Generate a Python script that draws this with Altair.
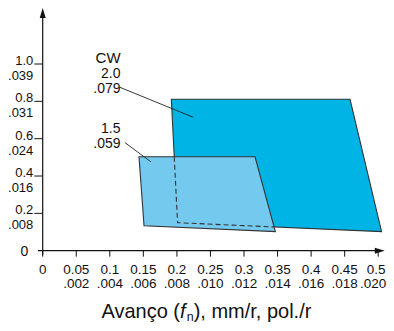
import altair as alt
import pandas as pd

# ---- data ----
x_ticks = [0, 0.05, 0.1, 0.15, 0.2, 0.25, 0.3, 0.35, 0.4, 0.45, 0.5]
x_lab1 = ["0", "0.05", "0.1", "0.15", "0.2", "0.25", "0.3", "0.35", "0.4", "0.45", "0.5"]
x_lab2 = ["", ".002", ".004", ".006", ".008", ".010", ".012", ".014", ".016", ".018", ".020"]

y_ticks = [0.2, 0.4, 0.6, 0.8, 1.0]
y_lab1 = ["0.2", "0.4", "0.6", "0.8", "1.0"]
y_lab2 = [".008", ".016", ".024", ".031", ".039"]

# CW 2.0 region (feed, depth)
dark_f = [0.1917, 0.458, 0.505, 0.201]
dark_d = [0.811, 0.811, 0.102, 0.150]
# CW 1.5 region
light_f = [0.1435, 0.3164, 0.3467, 0.151]
light_d = [0.503, 0.503, 0.102, 0.134]
# hidden edge of CW 2.0 region (dashed)
hid_f = [0.196, 0.201, 0.3448]
hid_d = [0.503, 0.150, 0.127]

# CW labels
cw_text = ["CW", "2.0", ".079", "1.5", ".059"]
cw_d = [1.0037, 0.9234, 0.843, 0.629, 0.5485]
cw_size = [15, 14, 14, 14, 14]
cw_f = 0.1160
# leader lines
lead1_f = [0.1152, 0.2244]
lead1_d = [0.875, 0.7145]
lead2_f = [0.1227, 0.161]
lead2_d = [0.5785, 0.4767]

FONT = "Liberation Sans"
XD = [0, 0.5098]
YD = [0, 1.3]
xs = alt.Scale(domain=XD, nice=False, zero=False)
ys = alt.Scale(domain=YD, nice=False, zero=False)

def X(v):
    return alt.X(v, type="quantitative", scale=xs, axis=None)

def Y(v):
    return alt.Y(v, type="quantitative", scale=ys, axis=None)

def XDat(v):
    return alt.X(datum=v, type="quantitative", scale=xs, axis=None)

def YDat(v):
    return alt.Y(datum=v, type="quantitative", scale=ys, axis=None)

dark_df = pd.DataFrame({"f": dark_f, "d": dark_d, "i": range(len(dark_f))})
light_df = pd.DataFrame({"f": light_f, "d": light_d, "i": range(len(light_f))})
hid_df = pd.DataFrame({"f": hid_f, "d": hid_d, "i": range(len(hid_f))})

dark = alt.Chart(dark_df).mark_line(
    interpolate="linear-closed", fill="#00b4e6", stroke="#333333", strokeWidth=1.1
).encode(x=X("f"), y=Y("d"), order="i:Q")

light = alt.Chart(light_df).mark_line(
    interpolate="linear-closed", fill="#74c9ef", stroke="#333333", strokeWidth=1.1
).encode(x=X("f"), y=Y("d"), order="i:Q")

hidden = alt.Chart(hid_df).mark_line(
    stroke="#333333", strokeWidth=1.1, strokeDash=[5, 3]
).encode(x=X("f"), y=Y("d"), order="i:Q")

# axes
axis_df = pd.DataFrame({"a": [0]})
x_axis = alt.Chart(axis_df).mark_rule(color="#111111", strokeWidth=1.2).encode(
    x=XDat(-0.007), x2=alt.X2(datum=0.503), y=YDat(0),
)
y_axis = alt.Chart(axis_df).mark_rule(color="#111111", strokeWidth=1.2).encode(
    x=XDat(0), y=YDat(-0.022), y2=alt.Y2(datum=1.27),
)
x_arrow = alt.Chart(axis_df).mark_point(
    shape="M1,0L-1,-0.6L-1,0.6Z", size=100, filled=True, color="#111111", opacity=1, xOffset=-5
).encode(x=XDat(0.5098), y=YDat(0))
y_arrow = alt.Chart(axis_df).mark_point(
    shape="M0,-1L0.6,1L-0.6,1Z", size=100, filled=True, color="#111111", opacity=1, yOffset=5
).encode(x=XDat(0), y=YDat(1.3))

xt_df = pd.DataFrame({"v": x_ticks, "l1": x_lab1, "l2": x_lab2})
yt_df = pd.DataFrame({"v": y_ticks, "l1": y_lab1, "l2": y_lab2})

x_tick_marks = alt.Chart(xt_df).mark_rule(color="#111111", strokeWidth=1).encode(
    x=X("v"), y=YDat(0), y2=alt.Y2(datum=-0.032),
)
y_tick_marks = alt.Chart(yt_df).mark_rule(color="#111111", strokeWidth=1).encode(
    y=Y("v"), x=XDat(0), x2=alt.X2(datum=-0.0125),
)

XFS = 13.5
def x_label_layer(field, dy, dx, keep_last):
    base = alt.Chart(xt_df)
    if keep_last:
        base = base.transform_filter(alt.datum.v >= 0.5)
    else:
        base = base.transform_filter(alt.datum.v < 0.5)
    return base.mark_text(
        font=FONT, fontSize=XFS, align="center", baseline="alphabetic",
        dy=dy, dx=dx, color="#111111"
    ).encode(x=X("v"), y=YDat(0), text=f"{field}:N")

x_l1 = x_label_layer("l1", 23.3, 0, False)
x_l2 = x_label_layer("l2", 37, 0, False)
x_l1_last = x_label_layer("l1", 23.3, -2, True)
x_l2_last = x_label_layer("l2", 37, -5, True)

YFS = 13
y_l1 = alt.Chart(yt_df).mark_text(
    font=FONT, fontSize=YFS, align="right", baseline="alphabetic", dx=-9.4, dy=1, color="#111111"
).encode(y=Y("v"), x=XDat(0), text="l1:N")
y_l2 = alt.Chart(yt_df).mark_text(
    font=FONT, fontSize=YFS, align="right", baseline="alphabetic", dx=-9.4, dy=16, color="#111111"
).encode(y=Y("v"), x=XDat(0), text="l2:N")
y_zero = alt.Chart(axis_df).mark_text(
    font=FONT, fontSize=14, align="right", baseline="alphabetic", dx=-14.4, dy=5.3,
    color="#111111", text="0"
).encode(x=XDat(0), y=YDat(0))

cw_df = pd.DataFrame({"t": cw_text, "d": cw_d, "s": cw_size})
cw_labels = alt.Chart(cw_df).mark_text(
    font=FONT, align="right", baseline="alphabetic", color="#111111"
).encode(
    x=XDat(cw_f),
    y=Y("d"),
    text="t:N",
    size=alt.Size("s:Q", scale=None, legend=None),
)

lead_df = pd.DataFrame({
    "f": lead1_f + lead2_f,
    "d": lead1_d + lead2_d,
    "g": ["a", "a", "b", "b"],
})
leaders = alt.Chart(lead_df).mark_line(color="#222222", strokeWidth=0.9).encode(
    x=X("f"), y=Y("d"), detail="g:N"
)

# axis title pieces
def title_piece(text, f, size, align, dy, style="normal"):
    return alt.Chart(axis_df).mark_text(
        font=FONT, fontSize=size, align=align, baseline="alphabetic", dy=dy,
        color="#111111", text=text, fontStyle=style
    ).encode(x=XDat(f), y=YDat(0))

TB = 67.6
t1 = title_piece("Avanço (", 0.2046, 20, "right", TB)
t2 = title_piece("f", 0.2046, 20, "left", TB, "italic")
t3 = title_piece("n", 0.2145, 12.5, "left", TB + 2.5)
t4 = title_piece("), mm/r, pol./r", 0.2250, 20, "left", TB)

chart = alt.layer(
    dark, light, hidden,
    leaders, cw_labels,
    x_axis, y_axis, x_arrow, y_arrow,
    x_tick_marks, y_tick_marks,
    x_l1, x_l2, x_l1_last, x_l2_last, y_l1, y_l2, y_zero,
    t1, t2, t3, t4,
).properties(
    width=342.1,
    height=242.7,
    autosize=alt.AutoSizeParams(type="none"),
    padding={"left": 34.7, "top": 0, "right": 1.0, "bottom": 72.2},
    background="white",
).configure_view(strokeWidth=0)

chart.save("out.html", embed_options={"renderer": "svg", "actions": False})
